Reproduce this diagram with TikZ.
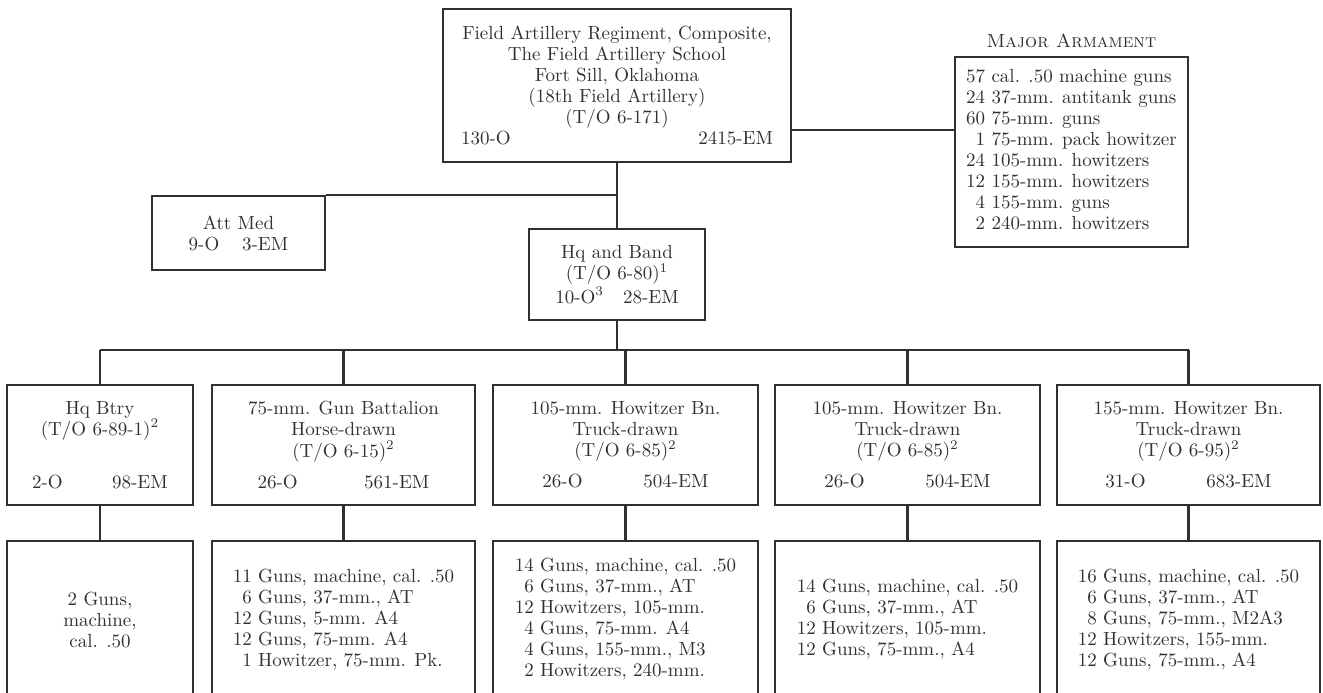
\documentclass[tikz,border=0pt]{standalone}
\usepackage{array}
\definecolor{ink}{RGB}{48,48,48}
\begin{document}
\begin{tikzpicture}[x=0.5pt,y=0.5pt,yscale=-1,
  unit/.style={draw=ink,line width=1.1pt,text=ink,align=center,inner sep=0pt,font=\fontsize{9.5}{10.5}\selectfont},
  upper/.style={unit,minimum height=60pt},
  lower/.style={unit,minimum height=79pt},
  link/.style={draw=ink,line width=1.1pt}]
\useasboundingbox (0,0) rectangle (1323,692);
\clip (0,0) rectangle (1323,692);

%Shape: Rectangle
\node[unit,minimum width=174pt,minimum height=76.5pt] (regt) at (617,85.5) {Field Artillery Regiment, Composite,\\The Field Artillery School\\Fort Sill, Oklahoma\\(18th Field Artillery)\\(T/O 6-171)\\\makebox[156pt]{130-O\hfill 2415-EM}};
%Shape: Rectangle
\node[unit,minimum width=116.5pt,minimum height=95pt] (arm) at (1071.5,152) {\begin{tabular}{@{}r@{\ }l@{}}57&cal. .50 machine guns\\24&37-mm. antitank guns\\60&75-mm. guns\\1&75-mm. pack howitzer\\24&105-mm. howitzers\\12&155-mm. howitzers\\4&155-mm. guns\\2&240-mm. howitzers\end{tabular}};
% Text Node
\node[unit,draw=none] (armhead) at (1071.5,41) {\textsc{Major Armament}};
%Shape: Rectangle
\node[unit,minimum width=86.5pt,minimum height=37pt] (attmed) at (238.5,233) {Att Med\\9-O\hspace{1.2em}3-EM};
%Shape: Rectangle
\node[unit,minimum width=88pt,minimum height=45.5pt] (hqband) at (617,274.5) {Hq and Band\\(T/O 6-80)\textsuperscript{1}\\10-O\textsuperscript{3}\hspace{1em}28-EM};

%Shape: Rectangle
\node[upper,minimum width=93pt] (hqbtry) at (100,445) {Hq Btry\\(T/O 6-89-1)\textsuperscript{2}\\[16pt]2-O\hspace{2.6em}98-EM};
\node[upper,minimum width=131.5pt] (gun75) at (343.5,445) {75-mm. Gun Battalion\\Horse-drawn\\(T/O 6-15)\textsuperscript{2}\\[5pt]26-O\hspace{3.5em}561-EM};
\node[upper,minimum width=132.5pt] (howa) at (625.5,445) {105-mm. Howitzer Bn.\\Truck-drawn\\(T/O 6-85)\textsuperscript{2}\\[5pt]26-O\hspace{3.2em}504-EM};
\node[upper,minimum width=132.5pt] (howb) at (907.5,445) {105-mm. Howitzer Bn.\\Truck-drawn\\(T/O 6-85)\textsuperscript{2}\\[5pt]26-O\hspace{3.2em}504-EM};
\node[upper,minimum width=131.5pt] (how155) at (1188.5,445) {155-mm. Howitzer Bn.\\Truck-drawn\\(T/O 6-95)\textsuperscript{2}\\[5pt]31-O\hspace{3.2em}683-EM};

%Shape: Rectangle
\node[lower,minimum width=93pt] (hqbtry-eq) at (100,620) {2 Guns,\\machine,\\cal. .50};
\node[lower,minimum width=131.5pt] (gun75-eq) at (343.5,620) {\begin{tabular}{@{}r@{\ }l@{}}11&Guns, machine, cal. .50\\6&Guns, 37-mm., AT\\12&Guns, 5-mm. A4\\12&Guns, 75-mm. A4\\1&Howitzer, 75-mm. Pk.\end{tabular}};
\node[lower,minimum width=132.5pt] (howa-eq) at (625.5,620) {\begin{tabular}{@{}r@{\ }l@{}}14&Guns, machine, cal. .50\\6&Guns, 37-mm., AT\\12&Howitzers, 105-mm.\\4&Guns, 75-mm. A4\\4&Guns, 155-mm., M3\\2&Howitzers, 240-mm.\end{tabular}};
\node[lower,minimum width=132.5pt] (howb-eq) at (907.5,620) {\begin{tabular}{@{}r@{\ }l@{}}14&Guns, machine, cal. .50\\6&Guns, 37-mm., AT\\12&Howitzers, 105-mm.\\12&Guns, 75-mm., A4\end{tabular}};
\node[lower,minimum width=131.5pt] (how155-eq) at (1188.5,620) {\begin{tabular}{@{}r@{\ }l@{}}16&Guns, machine, cal. .50\\6&Guns, 37-mm., AT\\8&Guns, 75-mm., M2A3\\12&Howitzers, 155-mm.\\12&Guns, 75-mm., A4\end{tabular}};

%Straight Lines
\coordinate (armlink) at (870,130);
\coordinate (bus) at (617,350);
\draw[link] (regt.south) -- (hqband.north);
\draw[link] (attmed.north east) -- (attmed.north east -| regt.south);
\draw[link] (regt.east |- armlink) -- (arm.west |- armlink);
\draw[link] (hqband.south) -- (bus);
\draw[link] (hqbtry.north |- bus) -- (how155.north |- bus);
\foreach \u in {hqbtry,gun75,howa,howb,how155} {
  \draw[link] (\u.north |- bus) -- (\u.north);
  \draw[link] (\u.south) -- (\u-eq.north);
}

\end{tikzpicture}
\end{document}
